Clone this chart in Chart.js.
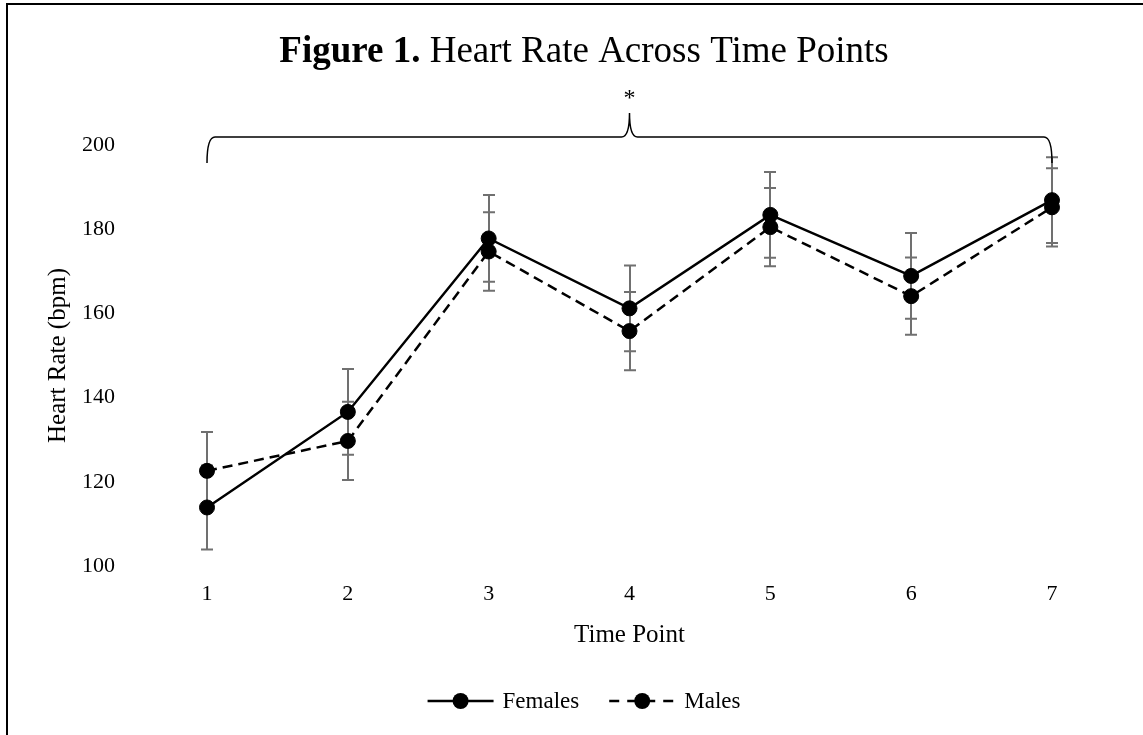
<!DOCTYPE html>
<html>
<head>
<meta charset="utf-8">
<script src="https://cdn.jsdelivr.net/npm/chart.js@4.4.0/dist/chart.umd.min.js"></script>
<style>
    body { margin: 0; background: #fff; overflow: hidden; }
    #frame {
        position: absolute;
        left: 6px;
        top: 3px;
        width: 1160px;
        height: 740px;
        border-left: 2px solid #000;
        border-top: 2px solid #000;
    }
    #hrChart { position: absolute; left: 0; top: 0; }
</style>
</head>
<body>
<div id="frame">
    <canvas id="hrChart" width="1152" height="730"></canvas>
</div>
<script>
// Chart data
const timePoints = ['1', '2', '3', '4', '5', '6', '7'];
const femalesMean = [113.9, 136.6, 177.8, 161.2, 183.4, 168.9, 186.9];
const malesMean = [122.6, 129.7, 174.7, 155.8, 180.5, 164.1, 185.2];
const femalesErr = [10.0, 10.2, 10.3, 10.2, 10.2, 10.2, 10.2];
const malesErr = [9.2, 9.3, 9.3, 9.3, 9.3, 9.2, 9.3];
const yMin = 100;
const yMax = 200;
const yStep = 20;

const FONT = "'Liberation Serif', 'Times New Roman', serif";

// Error bars drawn behind the lines and markers
const errorBarsPlugin = {
    id: 'errorBars',
    beforeDatasetsDraw(chart) {
        const ctx = chart.ctx;
        const x = chart.scales.x;
        const y = chart.scales.y;
        ctx.save();
        ctx.strokeStyle = '#707070';
        ctx.lineWidth = 2;
        chart.data.datasets.forEach(ds => {
            ds.errors.forEach((err, j) => {
                const px = Math.round(x.getPixelForValue(j));
                const top = y.getPixelForValue(ds.data[j] + err);
                const bottom = y.getPixelForValue(ds.data[j] - err);
                ctx.beginPath();
                ctx.moveTo(px, top);
                ctx.lineTo(px, bottom);
                ctx.moveTo(px - 6, top);
                ctx.lineTo(px + 6, top);
                ctx.moveTo(px - 6, bottom);
                ctx.lineTo(px + 6, bottom);
                ctx.stroke();
            });
        });
        ctx.restore();
    }
};

// Title with bold "Figure 1." prefix
const titlePlugin = {
    id: 'figTitle',
    afterDraw(chart) {
        const ctx = chart.ctx;
        const boldPart = 'Figure 1.';
        const restPart = ' Heart Rate Across Time Points';
        ctx.save();
        ctx.fillStyle = '#000';
        ctx.textBaseline = 'alphabetic';
        ctx.font = 'bold 37px ' + FONT;
        const w1 = ctx.measureText(boldPart).width;
        ctx.font = '37px ' + FONT;
        const w2 = ctx.measureText(restPart).width;
        const start = chart.width / 2 - (w1 + w2) / 2;
        ctx.font = 'bold 37px ' + FONT;
        ctx.fillText(boldPart, start, 57);
        ctx.font = '37px ' + FONT;
        ctx.fillText(restPart, start + w1, 57);
        ctx.restore();
    }
};

// Significance bracket spanning all time points
const bracketPlugin = {
    id: 'bracket',
    afterDraw(chart) {
        const ctx = chart.ctx;
        const x = chart.scales.x;
        const x0 = x.getPixelForValue(0);
        const x1 = x.getPixelForValue(timePoints.length - 1);
        const mid = (x0 + x1) / 2;
        const yLine = chart.chartArea.top - 8;
        const yEnd = yLine + 26;
        const yTip = yLine - 24;
        ctx.save();
        ctx.strokeStyle = '#000';
        ctx.lineWidth = 1.5;
        ctx.beginPath();
        ctx.moveTo(x0, yEnd);
        ctx.quadraticCurveTo(x0, yLine, x0 + 8, yLine);
        ctx.lineTo(mid - 8, yLine);
        ctx.quadraticCurveTo(mid, yLine, mid, yTip);
        ctx.moveTo(mid, yTip);
        ctx.quadraticCurveTo(mid, yLine, mid + 8, yLine);
        ctx.lineTo(x1 - 8, yLine);
        ctx.quadraticCurveTo(x1, yLine, x1, yEnd);
        ctx.stroke();

        ctx.fillStyle = '#000';
        ctx.font = '24px ' + FONT;
        ctx.textAlign = 'center';
        ctx.textBaseline = 'middle';
        ctx.fillText('*', mid, yTip - 14);
        ctx.restore();
    }
};

// Legend: line + marker sample, then label
const legendPlugin = {
    id: 'lineLegend',
    afterDraw(chart) {
        const ctx = chart.ctx;
        const sampleLen = 66;
        const gap = 9;
        const itemGap = 30;
        const yPos = 696;
        ctx.save();
        ctx.font = '23px ' + FONT;
        const items = chart.data.datasets.map(ds => ({
            ds: ds,
            w: sampleLen + gap + ctx.measureText(ds.label).width
        }));
        const total = items.reduce((s, it) => s + it.w, 0) + itemGap * (items.length - 1);
        let cx = chart.width / 2 - total / 2;
        items.forEach(it => {
            ctx.strokeStyle = '#000';
            ctx.lineWidth = 2.5;
            ctx.setLineDash(it.ds.borderDash ? [10, 8] : []);
            ctx.beginPath();
            ctx.moveTo(cx, yPos);
            ctx.lineTo(cx + sampleLen, yPos);
            ctx.stroke();
            ctx.setLineDash([]);
            ctx.fillStyle = '#000';
            ctx.beginPath();
            ctx.arc(cx + sampleLen / 2, yPos, 8, 0, Math.PI * 2);
            ctx.fill();
            ctx.textAlign = 'left';
            ctx.textBaseline = 'middle';
            ctx.fillText(it.ds.label, cx + sampleLen + gap, yPos + 1);
            cx += it.w + itemGap;
        });
        ctx.restore();
    }
};

function initChart() {
    const ctx = document.getElementById('hrChart').getContext('2d');

    const data = {
        labels: timePoints,
        datasets: [
            {
                label: 'Females',
                data: femalesMean,
                errors: femalesErr,
                borderColor: '#000',
                backgroundColor: '#000',
                borderWidth: 2.5,
                pointRadius: 7.5,
                pointBorderWidth: 1,
                pointBackgroundColor: '#000',
                pointBorderColor: '#000',
                tension: 0
            },
            {
                label: 'Males',
                data: malesMean,
                errors: malesErr,
                borderColor: '#000',
                backgroundColor: '#000',
                borderWidth: 2.5,
                borderDash: [10, 6],
                pointRadius: 7.5,
                pointBorderWidth: 1,
                pointBackgroundColor: '#000',
                pointBorderColor: '#000',
                tension: 0
            }
        ]
    };

    const config = {
        type: 'line',
        data: data,
        options: {
            responsive: false,
            animation: false,
            layout: {
                padding: { top: 140, left: 30, right: 108, bottom: 85 }
            },
            plugins: {
                legend: { display: false },
                title: { display: false },
                tooltip: { enabled: false }
            },
            scales: {
                x: {
                    offset: false,
                    grid: { display: false, drawTicks: false },
                    border: { display: false },
                    ticks: {
                        padding: 15,
                        color: '#000',
                        font: { family: FONT, size: 22 }
                    },
                    title: {
                        display: true,
                        text: 'Time Point',
                        color: '#000',
                        padding: { top: 0, bottom: 0 },
                        font: { family: FONT, size: 25 }
                    },
                    afterFit: scale => { scale.height = 84; }
                },
                y: {
                    min: yMin,
                    max: yMax,
                    grid: { display: false, drawTicks: false },
                    border: { display: false },
                    ticks: {
                        stepSize: yStep,
                        padding: 92,
                        color: '#000',
                        font: { family: FONT, size: 22 }
                    },
                    title: {
                        display: true,
                        text: 'Heart Rate (bpm)',
                        color: '#000',
                        padding: { top: 5, bottom: 0 },
                        font: { family: FONT, size: 25 }
                    },
                    afterFit: scale => { scale.width = 169; }
                }
            }
        },
        plugins: [errorBarsPlugin, titlePlugin, bracketPlugin, legendPlugin]
    };

    new Chart(ctx, config);
}

document.addEventListener('DOMContentLoaded', initChart);
</script>
</body>
</html>
